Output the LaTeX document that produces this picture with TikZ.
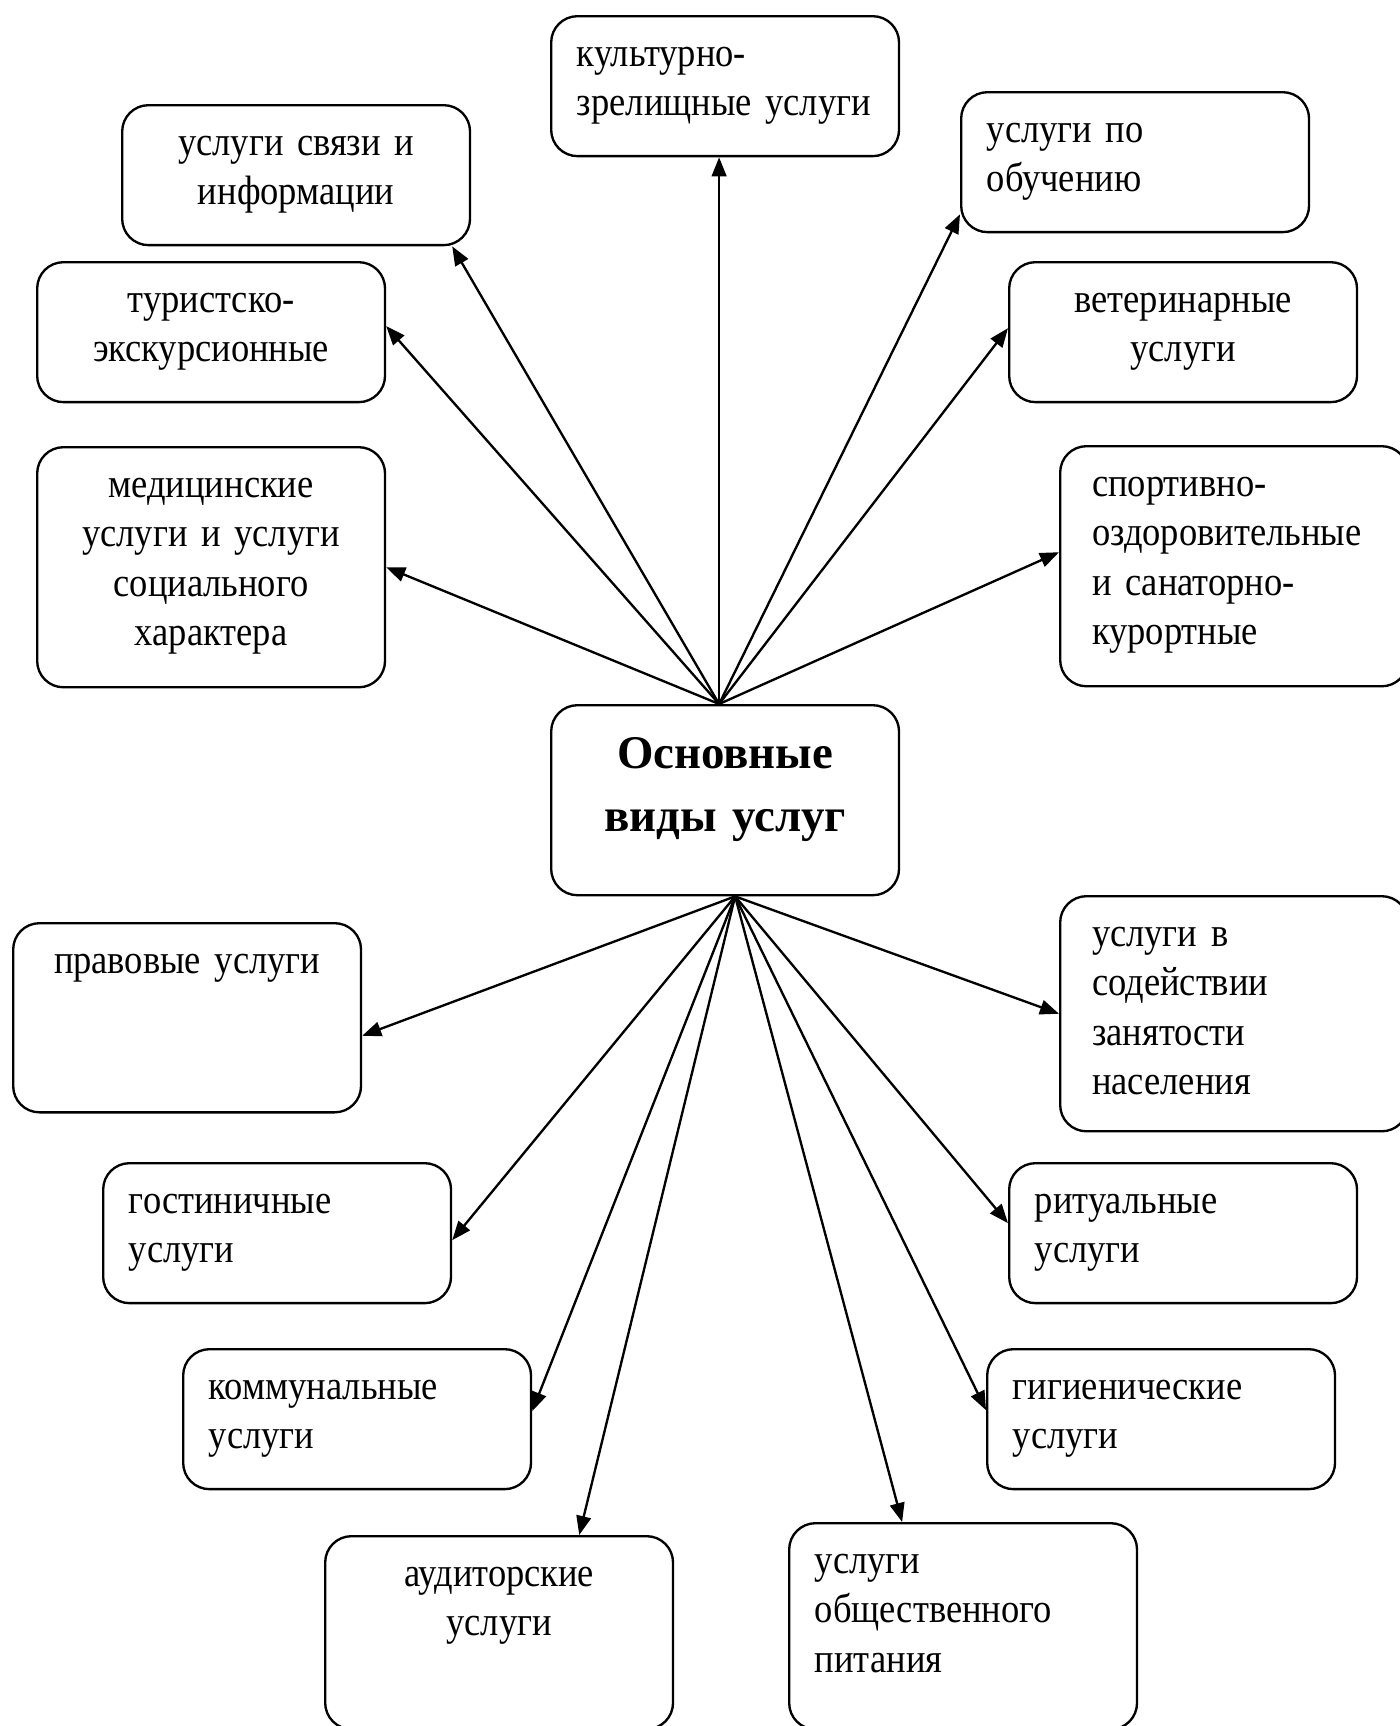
\documentclass[tikz,border=0pt]{standalone}
\usepackage{fontspec}
\setmainfont{Liberation Serif}[FakeStretch=0.89]
\newfontfamily\titlefont{Liberation Serif Bold}
\usetikzlibrary{arrows.meta,calc}
\tikzset{
    svc/.style={draw, line width=0.8pt, rounded corners=9pt, anchor=north west,
        minimum width=118.8pt, inner ysep=0pt, text height=17.1pt, text depth=#1,
        font=\fontsize{14}{16.9}\selectfont},
    svc/.default=30.7pt,
    lft/.style={align=left, inner xsep=8.8pt, text width=101.2pt},
    lftw/.style={align=left, inner xsep=10.9pt, text width=97pt},
    ctr/.style={align=center, inner xsep=0pt, text width=118.8pt},
    arr/.style={-{Triangle[length=6.5pt,width=5pt]}, line width=0.8pt}
}

\begin{document}
\begin{tikzpicture}[x=0.3415pt,y=-0.3415pt]
    \useasboundingbox (0,0) rectangle (1400,1726);
    \clip (0,0) rectangle (1400,1726);
    %top
    \node[svc, lft] (kult) at (550,15) {культурно-\\зрелищные~услуги};
    \node[svc, ctr] (svyaz) at (121,104) {услуги связи и\\информации};
    \node[svc, ctr] (tur) at (36,261) {туристско-\\экскурсионные};
    \node[svc=64.9pt, ctr] (med) at (36,446) {медицинские\\услуги и услуги\\социального\\характера};
    \node[svc, lft] (obuch) at (960,91) {услуги по\\обучению};
    \node[svc, ctr] (vet) at (1008,261) {ветеринарные\\услуги};
    \node[svc=64.9pt, lftw] (sport) at (1059,445) {спортивно-\\оздоровительные\\и санаторно-\\курортные};
    %centre
    \node[svc=43.4pt, ctr, text height=21.5pt, font=\fontsize{16}{21.5}\selectfont\titlefont] (osn) at (550,704) {Основные\\виды услуг};
    %bottom
    \node[svc=47.5pt, ctr] (prav) at (12,922) {правовые услуги};
    \node[svc=63.2pt, lftw] (sod) at (1059,895) {услуги в\\содействии\\занятости\\населения};
    \node[svc, lft] (gost) at (102,1162) {гостиничные\\услуги};
    \node[svc, lft] (rit) at (1008,1162) {ритуальные\\услуги};
    \node[svc, lft] (komm) at (182,1348) {коммунальные\\услуги};
    \node[svc, lft] (gig) at (986,1348) {гигиенические\\услуги};
    \node[svc=48.8pt, ctr] (aud) at (324,1535) {аудиторские\\услуги};
    \node[svc=53.3pt, lft] (obsch) at (788,1522) {услуги\\общественного\\питания};
    \coordinate (ctop) at ($(osn.north)+(-6,0)$);
    \coordinate (cbot) at ($(osn.south)+(10,0)$);
    %up
    \draw[arr] (ctop) -- (kult.south -| ctop);
    \draw[arr] (ctop) -- ($(svyaz.south east)+(-19,0)$);
    \draw[arr] (ctop) -- ($(tur.east)+(0,-6)$);
    \draw[arr] (ctop) -- (med.east);
    \draw[arr] (ctop) -- ($(obuch.south west)+(0,-19)$);
    \draw[arr] (ctop) -- ($(vet.west)+(0,-4)$);
    \draw[arr] (ctop) -- ($(sport.west)+(0,-14)$);
    %down
    \draw[arr] (cbot) -- ($(prav.east)+(0,18)$);
    \draw[arr] (cbot) -- (sod.west);
    \draw[arr] (cbot) -- ($(gost.east)+(0,7)$);
    \draw[arr] (cbot) -- ($(rit.west)+(0,-10)$);
    \draw[arr] (cbot) -- ($(komm.east)+(0,-8)$);
    \draw[arr] (cbot) -- ($(gig.west)+(0,-9)$);
    \draw[arr] (cbot) -- ($(aud.north east)+(-95,0)$);
    \draw[arr] (cbot) -- ($(obsch.north)+(-61,0)$);
\end{tikzpicture}
\end{document}
